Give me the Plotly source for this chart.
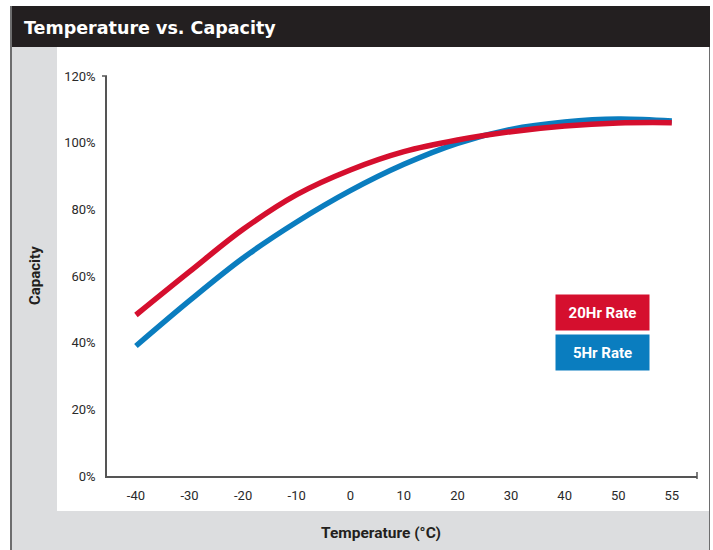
import plotly.graph_objects as go

temps = ["-40", "-30", "-20", "-10", "0", "10", "20", "30", "40", "50", "55"]
rate_20hr = [48.3, 61.3, 74.0, 84.4, 91.8, 97.3, 100.8, 103.3, 105.0, 105.9, 106.0]
rate_5hr = [39.0, 52.6, 65.4, 76.2, 85.6, 93.5, 99.8, 104.0, 106.2, 107.1, 106.5]
y_ticks = [0, 20, 40, 60, 80, 100, 120]
y_labels = ["0%", "20%", "40%", "60%", "80%", "100%", "120%"]

RED = "#d50f2e"
BLUE = "#0a7dbf"
COND = "Roboto, Liberation Sans, sans-serif"

W, H = 713, 550
L, R, T, B = 107, 697, 76, 476


def px(x):
    return (x - L) / (R - L)


def py(y):
    return (B - y) / (B - T)


fig = go.Figure()
fig.add_trace(go.Scatter(x=temps, y=rate_5hr, mode="lines", name="5Hr Rate",
                         line=dict(color=BLUE, width=5.5, shape="spline", smoothing=1.0)))
fig.add_trace(go.Scatter(x=temps, y=rate_20hr, mode="lines", name="20Hr Rate",
                         line=dict(color=RED, width=5.5, shape="spline", smoothing=1.0)))

shapes = []


def rect(x0, y0, x1, y1, color):
    shapes.append(dict(type="rect", xref="paper", yref="paper", x0=px(x0), x1=px(x1),
                       y0=py(y0), y1=py(y1), fillcolor=color, line=dict(width=0), layer="below"))


def line(x0, y0, x1, y1, color, width):
    shapes.append(dict(type="line", xref="paper", yref="paper", x0=px(x0), x1=px(x1),
                       y0=py(y0), y1=py(y1), line=dict(color=color, width=width)))


rect(11, 6, 710, 47, "#231f20")
rect(12, 47, 57, 550, "#dcdddf")
rect(12, 511, 709, 550, "#dcdddf")
line(11, 6, 11, 550, "#6d6d6e", 2)
line(709.5, 47, 709.5, 550, "#6d6d6e", 1)
# axis end caps
line(102, 76, 107, 76, "#555555", 1.5)
line(697, 472, 697, 479, "#555555", 1.5)

annotations = [
    dict(text="<b>Temperature vs. Capacity</b>", xref="paper", yref="paper", x=px(22), y=py(28),
         xanchor="left", yanchor="middle", showarrow=False,
         font=dict(family="DejaVu Sans", size=17.5, color="white")),
    dict(text="<b>Capacity</b>", xref="paper", yref="paper", x=px(35), y=py(276),
         xanchor="center", yanchor="middle", textangle=-90, showarrow=False,
         font=dict(family=COND, size=15, color="#231f20")),
    dict(text="<b>Temperature (°C)</b>", xref="paper", yref="paper", x=px(381), y=py(533),
         xanchor="center", yanchor="middle", showarrow=False,
         font=dict(family=COND, size=15.5, color="#231f20")),
    dict(text="<b>20Hr Rate</b>", xref="paper", yref="paper", x=px(602.5), y=py(312.5),
         xanchor="center", yanchor="middle", showarrow=False, width=93, height=35,
         bgcolor=RED, borderpad=0, align="center",
         font=dict(family=COND, size=15, color="white")),
    dict(text="<b>5Hr Rate</b>", xref="paper", yref="paper", x=px(602.5), y=py(352.5),
         xanchor="center", yanchor="middle", showarrow=False, width=93, height=35,
         bgcolor=BLUE, borderpad=0, align="center",
         font=dict(family=COND, size=15, color="white")),
]

fig.update_layout(
    width=W, height=H,
    margin=dict(l=L, r=W - R, t=T, b=H - B, pad=0),
    paper_bgcolor="white", plot_bgcolor="white",
    showlegend=False,
    shapes=shapes, annotations=annotations,
    xaxis=dict(type="category", range=[-0.54, 10.47], showgrid=False, zeroline=False,
               showline=True, linecolor="#555555", linewidth=1.5, ticks="",
               tickfont=dict(family=COND, size=13, color="#2a2a2a"), ticklabelstandoff=7),
    yaxis=dict(range=[0, 120], tickvals=y_ticks, ticktext=y_labels, showgrid=False,
               zeroline=False, showline=True, linecolor="#555555", linewidth=1.5, ticks="",
               tickfont=dict(family=COND, size=13, color="#2a2a2a"), ticklabelstandoff=7),
)

fig.write_html("out.html", config={"displayModeBar": False},
               post_script="document.body.style.margin='0';document.body.style.padding='0';")
